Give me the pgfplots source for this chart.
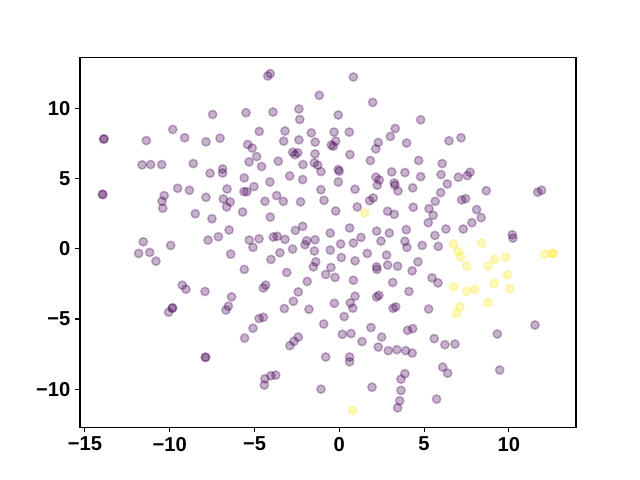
\documentclass[border=0pt]{standalone}
\usepackage{fontspec}
\setmainfont{Liberation Sans}
\usepackage{pgfplots}
\pgfplotsset{compat=1.18}
\definecolor{vpurple}{HTML}{440154}
\definecolor{vyellow}{HTML}{FDE725}
\pgfplotstableread{
x y
-13.87 7.84
-13.90 7.80
-13.97 3.89
-13.94 3.86
-7.47 9.57
-5.50 9.69
-9.82 8.50
-11.38 7.71
-9.12 7.91
-7.86 7.62
-7.03 7.88
-5.40 7.43
-11.63 5.98
-11.12 6.00
-10.47 6.00
-8.61 6.07
-6.88 5.69
-6.88 5.40
-7.62 5.38
-5.32 6.19
-5.60 5.05
-5.62 4.07
-5.45 4.07
-9.53 4.31
-8.84 4.17
-10.32 3.79
-10.45 3.39
-10.41 2.89
-7.86 3.67
-6.62 4.26
-6.84 3.55
-6.43 3.34
-6.64 2.98
-5.70 2.62
-8.49 2.50
-7.51 2.14
-6.50 1.34
-7.13 0.86
-7.74 0.62
-11.56 0.50
-9.94 0.24
-5.31 0.62
-11.83 -0.33
-11.18 -0.26
-10.81 -0.88
-6.40 -0.38
-5.60 -1.47
-9.26 -2.59
-9.04 -2.88
-7.92 -3.04
-6.35 -3.43
-6.54 -4.09
-6.68 -4.36
-9.85 -4.24
-9.83 -4.20
-10.06 -4.52
-7.90 -7.74
-7.88 -7.72
-5.58 -6.36
-4.22 12.31
-4.07 12.48
0.83 12.24
-1.18 10.93
1.97 10.43
-3.91 9.74
-2.38 9.96
-2.33 9.21
-0.06 9.53
-4.72 8.36
-3.20 8.39
-1.65 8.26
-0.31 8.31
0.59 8.31
3.30 8.57
3.01 8.00
3.97 7.53
-5.13 7.17
-3.28 7.67
-2.38 7.76
-1.42 7.60
-0.21 7.67
-0.47 7.39
-0.35 7.31
2.30 7.57
2.15 7.12
-4.87 6.57
-2.75 6.88
-2.61 6.71
-2.45 6.84
-1.43 6.76
0.63 6.71
-3.60 6.24
-4.58 5.86
-2.14 6.00
-1.47 6.12
-1.27 5.96
-1.08 5.50
-0.06 5.64
0.00 5.53
1.83 6.29
3.09 5.48
3.87 5.43
-2.92 5.19
-2.16 4.93
-0.06 4.76
2.16 5.10
2.36 4.91
2.24 4.53
3.24 4.69
3.28 4.53
3.46 4.12
4.33 4.34
-4.09 4.76
-5.03 4.43
-1.08 4.21
0.93 4.24
-3.69 3.79
-3.30 3.38
-4.38 3.38
-2.28 3.34
-0.90 3.45
1.79 3.43
2.00 3.62
1.06 2.98
-0.21 2.69
-4.07 2.26
2.85 2.67
3.24 2.46
4.36 2.96
-2.59 1.31
-2.16 1.60
0.61 1.48
-0.53 1.12
2.20 1.26
2.95 1.12
3.95 1.36
-4.73 0.71
-3.89 0.84
-3.66 0.89
-3.20 0.67
-1.92 0.57
-2.02 0.29
-1.43 0.64
1.28 0.81
2.46 0.55
3.87 0.53
3.99 0.10
0.08 0.34
0.83 0.41
-5.09 0.10
-0.53 -0.09
-1.47 -0.16
-2.75 -0.02
-3.50 -0.28
-4.03 -0.76
-3.10 -1.69
-1.39 -0.93
-1.53 -1.29
0.12 -0.62
0.93 -0.86
1.65 -0.33
2.79 -0.45
-0.49 -1.33
-0.80 -1.83
-0.25 -2.04
2.20 -1.29
2.22 -1.47
2.85 -1.16
3.44 -1.24
4.30 -1.57
-1.89 -2.33
-2.42 -3.07
-2.71 -3.74
-3.24 -4.26
-1.79 -4.31
0.83 -2.24
0.93 -3.38
-0.29 -3.88
0.65 -3.86
0.80 -4.23
2.20 -3.43
2.34 -3.31
3.15 -2.40
4.11 -3.04
3.17 -4.24
3.33 -4.14
-4.48 -2.79
-4.34 -2.59
0.29 -4.83
-0.92 -5.36
-4.73 -4.97
-4.48 -4.88
-5.09 -5.66
-2.91 -6.90
-2.67 -6.59
-2.42 -6.29
0.18 -6.09
0.69 -6.04
1.34 -6.61
1.87 -5.61
2.50 -6.29
2.30 -7.00
2.89 -7.26
3.40 -7.19
3.92 -7.26
4.30 -7.43
4.03 -5.81
4.33 -5.69
-0.80 -7.71
0.61 -7.71
0.61 -8.05
-4.38 -9.26
-4.42 -9.71
-4.03 -9.04
-3.75 -9.00
-1.08 -10.00
1.93 -9.86
3.87 -8.90
3.64 -9.29
3.64 -10.09
3.56 -10.83
3.44 -11.33
4.80 9.19
6.47 7.69
7.18 7.91
4.68 6.29
6.07 6.07
4.80 5.14
6.00 5.29
7.02 5.10
7.55 5.21
7.71 5.45
6.37 4.62
5.98 4.00
8.67 4.14
11.70 4.03
11.93 4.17
5.66 3.38
7.22 3.48
7.45 3.57
5.29 2.86
5.54 2.39
8.10 2.79
8.37 2.22
5.25 1.86
7.82 1.86
6.29 1.41
7.31 1.41
5.64 0.95
10.20 1.00
10.24 0.76
4.89 0.24
5.84 0.17
4.64 -0.93
5.47 -2.07
5.82 -2.43
5.27 -4.29
5.60 -6.40
6.23 -6.83
6.82 -6.79
6.10 -8.43
6.39 -8.86
5.74 -10.71
9.32 -6.07
11.54 -5.43
9.46 -8.64
}\purpledata
\pgfplotstableread{
x y
1.50 2.55
0.79 -11.52
6.72 0.34
8.40 0.41
7.00 -0.19
7.16 -0.57
7.51 -1.24
8.77 -1.24
9.16 -0.76
9.81 -0.59
12.13 -0.38
12.56 -0.33
12.62 -0.33
9.91 -1.86
9.12 -2.47
10.06 -2.83
6.75 -2.71
7.51 -3.02
8.00 -2.88
8.77 -3.83
7.12 -4.14
6.90 -4.62
}\yellowdata
\begin{document}
\begin{tikzpicture}
\path[use as bounding box] (0,0) rectangle (460.8pt,345.6pt);
\begin{axis}[
  at={(57.6pt,38.016pt)}, anchor=south west,
  width=357.12pt, height=266.11pt, scale only axis,
  xmin=-15.29, xmax=13.96, ymin=-12.71, ymax=13.62,
  xtick={-15,-10,-5,0,5,10}, xticklabels={−15,−10,−5,0,5,10},
  ytick={-10,-5,0,5,10}, yticklabels={−10,−5,0,5,10},
  tick align=outside, major tick length=3.5pt,
  tick pos=left,
  every tick/.style={line width=0.8pt, black},
  axis line style={line width=0.8pt},
  ticklabel style={font=\fontsize{14.5}{16}\selectfont\bfseries},
  clip=false,
]
\addplot[only marks, mark=*, mark size=3pt,
  mark options={fill=vpurple, draw=vpurple, line width=1.1pt, opacity=0.3}]
  table {\purpledata};
\addplot[only marks, mark=*, mark size=3pt,
  mark options={fill=vyellow, draw=vyellow, line width=1.1pt, opacity=0.3}]
  table {\yellowdata};
\end{axis}
\end{tikzpicture}
\end{document}
